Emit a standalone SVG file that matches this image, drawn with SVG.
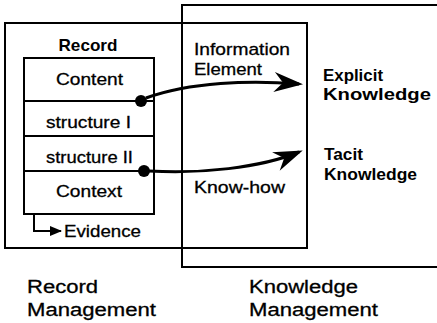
<svg xmlns="http://www.w3.org/2000/svg" width="437" height="323" viewBox="0 0 437 323">
<style>
.box{fill:none;stroke:#000;stroke-width:2}
.t{font-family:"Liberation Sans",Arial,sans-serif;font-size:17px;fill:#000;stroke:#000;stroke-width:0.3}
.b{font-weight:bold;stroke-width:0}
.big{font-size:18px}
.conn{fill:none;stroke:#000;stroke-width:3}
.thin{fill:none;stroke:#000;stroke-width:2}
</style>
<defs>
<marker id="head" markerUnits="userSpaceOnUse" orient="auto" markerWidth="34" markerHeight="26" refX="0" refY="0" viewBox="-30 -13 34 26">
<path d="M4,0 L-25,-10 L-16,0 L-25,10 Z" fill="#000"/>
</marker>
<marker id="small" markerUnits="userSpaceOnUse" orient="auto" markerWidth="14" markerHeight="12" refX="0" refY="0" viewBox="-12 -6 14 12">
<path d="M1,0 L-11,-5 L-11,5 Z" fill="#000"/>
</marker>
</defs>
<g id="record-management">
<rect class="box" x="5" y="23" width="302" height="225"/>
<text class="t big" x="27" y="293" textLength="71" lengthAdjust="spacingAndGlyphs">Record</text>
<text class="t big" x="27" y="316" textLength="129" lengthAdjust="spacingAndGlyphs">Management</text>
</g>
<g id="knowledge-management">
<path class="box" d="M440,5 H182 V267 H440"/>
<text class="t big" x="249" y="293" textLength="109" lengthAdjust="spacingAndGlyphs">Knowledge</text>
<text class="t big" x="249" y="316" textLength="129" lengthAdjust="spacingAndGlyphs">Management</text>
</g>
<g id="record">
<text class="t b" x="88" y="51" text-anchor="middle" textLength="59" lengthAdjust="spacingAndGlyphs">Record</text>
<rect class="box" x="24" y="58" width="130" height="156"/>
<line class="thin" x1="24" y1="101" x2="154" y2="101"/>
<line class="thin" x1="24" y1="136" x2="154" y2="136"/>
<line class="thin" x1="24" y1="171" x2="154" y2="171"/>
<text class="t" x="56" y="85" textLength="67" lengthAdjust="spacingAndGlyphs">Content</text>
<text class="t" x="46" y="128" textLength="85" lengthAdjust="spacingAndGlyphs">structure I</text>
<text class="t" x="46" y="163" textLength="87" lengthAdjust="spacingAndGlyphs">structure II</text>
<text class="t" x="56" y="197" textLength="66" lengthAdjust="spacingAndGlyphs">Context</text>
</g>
<g id="evidence">
<text class="t" x="64" y="237" textLength="77" lengthAdjust="spacingAndGlyphs">Evidence</text>
</g>
<g id="explicit-knowledge">
<text class="t b" x="323" y="81" textLength="60" lengthAdjust="spacingAndGlyphs">Explicit</text>
<text class="t b" x="323" y="100" textLength="108" lengthAdjust="spacingAndGlyphs">Knowledge</text>
</g>
<g id="tacit-knowledge">
<text class="t b" x="324" y="160" textLength="39" lengthAdjust="spacingAndGlyphs">Tacit</text>
<text class="t b" x="324" y="180" textLength="93" lengthAdjust="spacingAndGlyphs">Knowledge</text>
</g>
<g id="connectors">
<path class="conn" d="M146,98 C190,82 250,80 299,84" marker-end="url(#head)"/>
<path class="conn" d="M149,171 C200,174 260,168 299,152" marker-end="url(#head)"/>
<circle cx="141" cy="101" r="6" fill="#000"/>
<circle cx="144" cy="171" r="6" fill="#000"/>
<path class="thin" d="M34,214 V231 H61" marker-end="url(#small)"/>
<text class="t" x="194" y="55" textLength="96" lengthAdjust="spacingAndGlyphs">Information</text>
<text class="t" x="194" y="75" textLength="68" lengthAdjust="spacingAndGlyphs">Element</text>
<text class="t" x="194" y="193" textLength="91" lengthAdjust="spacingAndGlyphs">Know-how</text>
</g>
</svg>
